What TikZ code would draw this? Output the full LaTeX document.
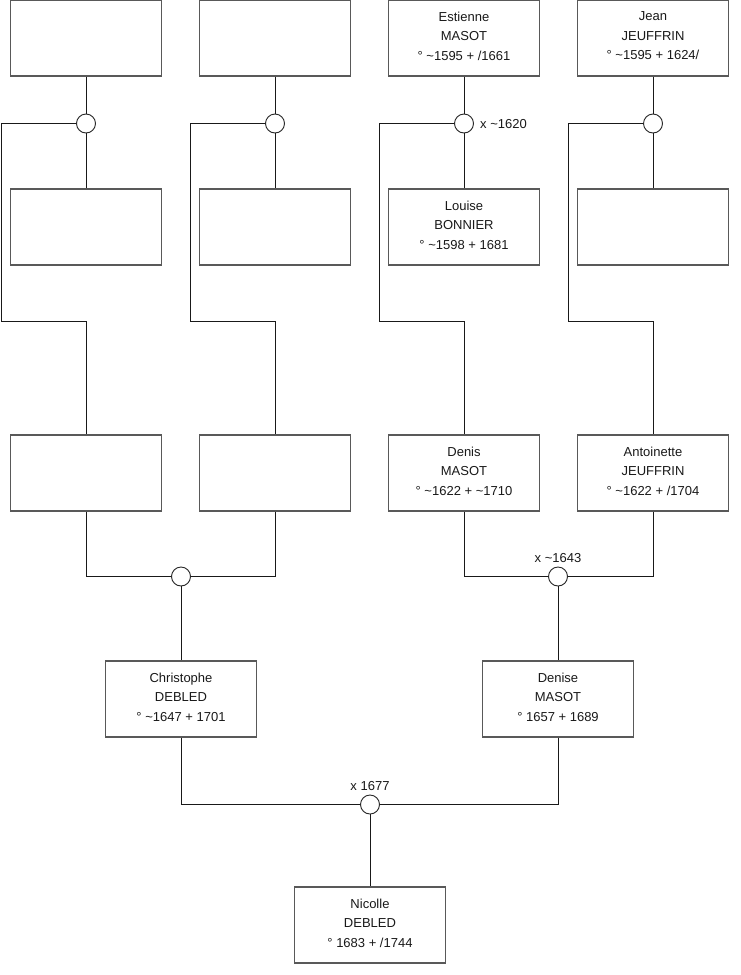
\documentclass[tikz,border=0pt]{standalone}
\usepackage{fontspec}
\setmainfont{Liberation Sans}
\begin{document}
\begin{tikzpicture}[x=1pt,y=-1pt,
  pbox/.style={draw=black!65,line width=1.2pt,minimum width=151pt,minimum height=76pt,inner sep=0pt},
  pboxt/.style={pbox,label={[ptxt]center:#1}},
  ptxt/.style={align=center,font=\fontsize{13}{19.5}\selectfont,text=black!90,yshift=2pt,inner sep=0pt},
  junc/.style={circle,draw=black!85,line width=0.9pt,minimum size=19pt,inner sep=0pt,fill=white},
  link/.style={draw=black!90,line width=0.9pt},
  lab/.style={font=\fontsize{13}{15}\selectfont,text=black!90,inner sep=0pt}]
\useasboundingbox (0,0) rectangle (740,975);
\fill[white] (0,0) rectangle (740,975);
% row 1
\node[pbox] (a1) at (86,38) {};
\node[pbox] (a2) at (275,38) {};
\node[pboxt={Estienne\\MASOT\\° \textasciitilde1595 + /1661}] (a3) at (464,38) {};
\node[pboxt={Jean\\JEUFFRIN\\° \textasciitilde1595 + 1624/}] (a4) at (653,38) {};
% row 2
\node[pbox] (b1) at (86,227) {};
\node[pbox] (b2) at (275,227) {};
\node[pboxt={Louise\\BONNIER\\° \textasciitilde1598 + 1681}] (b3) at (464,227) {};
\node[pbox] (b4) at (653,227) {};
% row 3
\node[pbox] (r1) at (86,473) {};
\node[pbox] (r2) at (275,473) {};
\node[pboxt={Denis\\MASOT\\° \textasciitilde1622 + \textasciitilde1710}] (r3) at (464,473) {};
\node[pboxt={Antoinette\\JEUFFRIN\\° \textasciitilde1622 + /1704}] (r4) at (653,473) {};
% row 4
\node[pboxt={Christophe\\DEBLED\\° \textasciitilde1647 + 1701}] (d1) at (181,699) {};
\node[pboxt={Denise\\MASOT\\° 1657 + 1689}] (d2) at (558,699) {};
% row 5
\node[pboxt={Nicolle\\DEBLED\\° 1683 + /1744}] (n1) at (370,925) {};
% junctions
\node[junc] (c1) at (86,123.5) {};
\node[junc] (c2) at (275,123.5) {};
\node[junc] (c3) at (464,123.5) {};
\node[junc] (c4) at (653,123.5) {};
\node[junc] (m1) at (181,576.5) {};
\node[junc] (m2) at (558,576.5) {};
\node[junc] (m3) at (370,804.5) {};
% labels
\node[lab,anchor=west] (l1) at (480,124) {x \textasciitilde1620};
\node[lab] (l2) at (558,558) {x \textasciitilde1643};
\node[lab] (l3) at (370,786) {x 1677};
% top connectors
\foreach \i/\xl in {1/1.5,2/190.5,3/379.5,4/568.5}{
  \draw[link] (a\i.south) -- (c\i.north);
  \draw[link] (c\i.south) -- (b\i.north);
  \draw[link] (c\i.west) -- (\xl,123.5) |- (r\i.north |- 0,321.5) -- (r\i.north);
}
% row 3 to junctions
\draw[link] (r1.south) |- (m1.west);
\draw[link] (r2.south) |- (m1.east);
\draw[link] (r3.south) |- (m2.west);
\draw[link] (r4.south) |- (m2.east);
\draw[link] (m1.south) -- (d1.north);
\draw[link] (m2.south) -- (d2.north);
\draw[link] (d1.south) |- (m3.west);
\draw[link] (d2.south) |- (m3.east);
\draw[link] (m3.south) -- (n1.north);
\end{tikzpicture}
\end{document}
